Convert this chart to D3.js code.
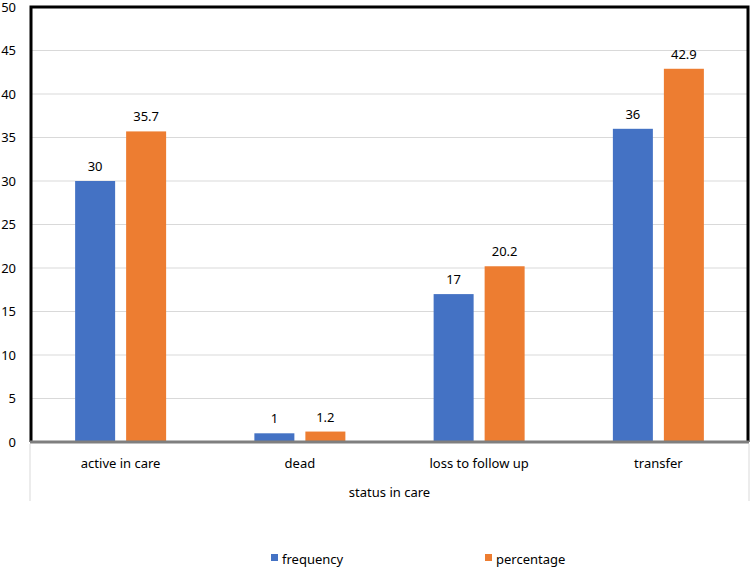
<!DOCTYPE html>
<html>
<head>
<meta charset="utf-8">
<script src="https://cdn.jsdelivr.net/npm/d3@7"></script>
<style>
  body { margin: 0; background: #fff; }
  text { font-family: "Noto Sans", "Open Sans", sans-serif; fill: #000; }
</style>
</head>
<body>
<div class="graph"><svg></svg></div>
<script>
const categories = ['active in care', 'dead', 'loss to follow up', 'transfer']
const seriesNames = ['frequency', 'percentage']
const frequency = [30, 1, 17, 36]
const percentage = [35.7, 1.2, 20.2, 42.9]
const yTicks = [0, 5, 10, 15, 20, 25, 30, 35, 40, 45, 50]
const colors = ['#4472C4', '#ED7D31']

const width = 751
const height = 568
const plot = { left: 31, right: 748, top: 7, bottom: 442 }

const svg = d3.select('.graph').select('svg')
  .attr('width', width)
  .attr('height', height)

const x = d3.scaleBand()
  .domain(categories)
  .range([plot.left, plot.right])

const y = d3.scaleLinear()
  .domain([0, 50])
  .range([plot.bottom, plot.top])

const barW = 40
const gap = 11

// gridlines
svg.append('g')
  .selectAll('line')
  .data(yTicks.slice(1, -1))
  .join('line')
  .attr('x1', plot.left)
  .attr('x2', plot.right)
  .attr('y1', d => y(d))
  .attr('y2', d => y(d))
  .attr('stroke', '#d9d9d9')
  .attr('stroke-width', 1)

// y tick labels
svg.append('g')
  .selectAll('text')
  .data(yTicks)
  .join('text')
  .attr('x', 16)
  .attr('y', d => y(d))
  .attr('dy', '0.35em')
  .attr('text-anchor', 'end')
  .attr('font-size', 13)
  .text(d => d)

// bars
const data = categories.map((c, i) => ({ cat: c, vals: [frequency[i], percentage[i]] }))
const groups = svg.append('g')
  .selectAll('g')
  .data(data)
  .join('g')
  .attr('transform', d => 'translate(' + (x(d.cat) + x.bandwidth() / 2) + ',0)')

groups.selectAll('rect')
  .data(d => d.vals)
  .join('rect')
  .attr('x', (d, i) => i === 0 ? -(gap / 2 + barW) : gap / 2)
  .attr('y', d => y(d))
  .attr('width', barW)
  .attr('height', d => y(0) - y(d))
  .attr('fill', (d, i) => colors[i])

groups.selectAll('text')
  .data(d => d.vals)
  .join('text')
  .attr('x', (d, i) => i === 0 ? -(gap / 2 + barW / 2) : gap / 2 + barW / 2)
  .attr('y', d => y(d) - 10)
  .attr('text-anchor', 'middle')
  .attr('font-size', 13)
  .text(d => d)

// plot frame: black left, top, right; gray bottom axis
svg.append('path')
  .attr('d', 'M' + plot.left + ',' + plot.bottom + 'V' + plot.top + 'H' + plot.right + 'V' + plot.bottom)
  .attr('fill', 'none')
  .attr('stroke', '#000')
  .attr('stroke-width', 3)

svg.append('line')
  .attr('x1', plot.left - 1)
  .attr('x2', plot.right + 1)
  .attr('y1', plot.bottom)
  .attr('y2', plot.bottom)
  .attr('stroke', '#7f7f7f')
  .attr('stroke-width', 3)

// outer category separators
svg.append('g')
  .selectAll('line')
  .data([plot.left - 1, plot.right + 1])
  .join('line')
  .attr('x1', d => d)
  .attr('x2', d => d)
  .attr('y1', plot.bottom + 2)
  .attr('y2', 501)
  .attr('stroke', '#d9d9d9')
  .attr('stroke-width', 1)

// category labels
svg.append('g')
  .selectAll('text')
  .data(categories)
  .join('text')
  .attr('x', d => x(d) + x.bandwidth() / 2)
  .attr('y', 468)
  .attr('text-anchor', 'middle')
  .attr('font-size', 13)
  .text(d => d)

svg.append('text')
  .attr('x', (plot.left + plot.right) / 2)
  .attr('y', 497)
  .attr('text-anchor', 'middle')
  .attr('font-size', 13)
  .text('status in care')

// legend
const legendX = [271, 485]
const legend = svg.append('g')
  .selectAll('g')
  .data(seriesNames)
  .join('g')
  .attr('transform', (d, i) => 'translate(' + legendX[i] + ',559)')

legend.append('rect')
  .attr('x', 0)
  .attr('y', -5)
  .attr('width', 7)
  .attr('height', 7)
  .attr('fill', (d, i) => colors[i])

legend.append('text')
  .attr('x', 11)
  .attr('y', 0)
  .attr('dy', '0.35em')
  .attr('font-size', 13)
  .text(d => d)
</script>
</body>
</html>
